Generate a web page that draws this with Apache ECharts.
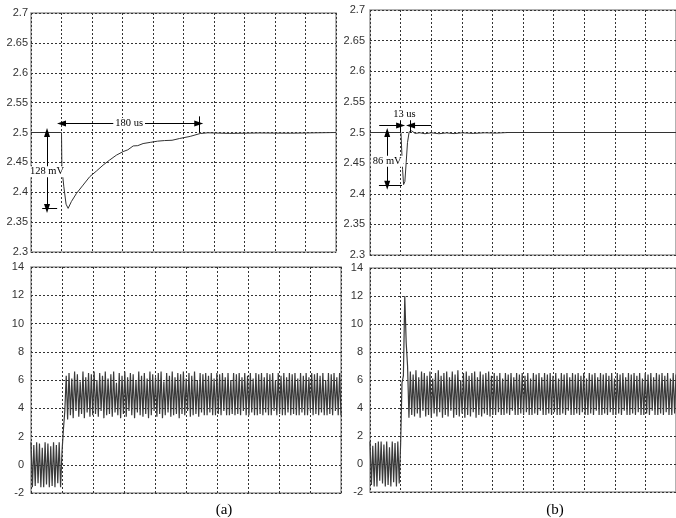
<!DOCTYPE html>
<html>
<head>
<meta charset="utf-8">
<script src="https://cdn.jsdelivr.net/npm/echarts@6/dist/echarts.min.js"></script>
<style>
  html, body { margin: 0; padding: 0; background: #fff; }
  #chart { width: 676px; height: 518px; }
</style>
</head>
<body>
<div id="chart"></div>
<script>
// time axis in us: 10 divisions of 40 us, load step at t = 40
const xTicks = [0, 400, 40];
const vTicks = [2.3, 2.7, 0.05];
const iTicks = [-2, 14, 2];

// output voltage (a)
const tVoltA = [0, 40, 40.5, 43, 46, 48.7, 53, 59.6, 68.3, 77, 85.8, 94.6, 103.2, 111.9, 120.7, 127, 134, 140, 147, 156.5, 166, 175, 185, 195, 208.8, 221.9, 232, 260, 300, 340, 400];
const voltA = [2.5, 2.5, 2.44, 2.41, 2.38, 2.373, 2.3845, 2.398, 2.412, 2.426, 2.4355, 2.4455, 2.454, 2.462, 2.468, 2.471, 2.4775, 2.478, 2.4815, 2.4835, 2.4855, 2.4865, 2.487, 2.490, 2.4935, 2.4983, 2.4995, 2.4985, 2.4992, 2.4988, 2.5];

// output voltage (b)
const tVoltB = [0, 40.5, 41.5, 42.6, 43.9, 45.6, 47.3, 49, 51.2, 54.6, 58.9, 65.3, 71.8, 80.4, 90, 100, 110, 120, 135, 150, 165, 180, 400];
const voltB = [2.5, 2.5, 2.47, 2.4395, 2.415, 2.42, 2.451, 2.4835, 2.501, 2.5027, 2.4985, 2.4995, 2.498, 2.4995, 2.498, 2.4993, 2.4982, 2.4995, 2.4985, 2.4995, 2.499, 2.5, 2.5];

// inductor current (a): ripple before the step, the rise, ripple after
const iPreA = [1.6, -1.6, 1.4, -1.5, 1.6, -1.3, 1.5, -1.6, 1.2, -1.6, 1.6, -1.4, 1.5, -1.6, 1.3, -1.5, 1.6, -1.6, 1.4, -1.3, 1.6, -1.6];
const iRiseA = [0.9, 2.5, 3.8];
const iRipA = [
  6.3, 3.2, 6.5, 3.5, 6.1, 3.3, 6.6, 3.8, 6.4, 3.4, 5.9, 3.6, 6.6, 3.3, 6.2, 3.7, 6.5, 3.4, 6.4, 3.5,
  6.6, 3.6, 6.0, 3.4, 6.5, 3.8, 6.3, 3.3, 6.6, 3.5, 6.1, 3.6, 6.4, 3.4, 6.6, 3.7, 5.8, 3.5, 6.5, 3.3,
  6.3, 3.6, 6.6, 3.4, 6.2, 3.8, 6.5, 3.5, 6.4, 3.3, 6.0, 3.7, 6.6, 3.5, 6.3, 3.4, 6.5, 3.6, 6.1, 3.3,
  6.6, 3.5, 6.4, 3.8, 6.2, 3.4, 6.5, 3.6, 6.6, 3.3, 5.9, 3.5, 6.5, 3.7, 6.3, 3.4, 6.6, 3.5, 6.2, 3.6,
  6.5, 3.3, 6.4, 3.6, 6.6, 3.5, 6.1, 3.8, 6.5, 3.4, 6.3, 3.5, 6.6, 3.6, 6.0, 3.4, 6.5, 3.7, 6.4, 3.5,
  6.5, 3.5, 6.3, 3.7, 6.5, 3.5, 6.1, 3.5, 6.5, 3.6, 6.4, 3.5, 6.5, 3.8, 6.2, 3.5, 6.5, 3.5, 6.0, 3.6,
  6.5, 3.5, 6.4, 3.6, 6.5, 3.5, 6.2, 3.8, 6.5, 3.5, 6.3, 3.5, 6.5, 3.7, 6.1, 3.5, 6.5, 3.5, 6.4, 3.6,
  6.5, 3.5, 6.2, 3.7, 6.5, 3.5, 6.4, 3.5, 6.5, 3.8, 6.0, 3.5, 6.5, 3.6, 6.3, 3.5, 6.5, 3.5, 6.2, 3.7,
  6.5, 3.5, 6.4, 3.6, 6.5, 3.5, 6.1, 3.5, 6.5, 3.7, 6.3, 3.5, 6.5, 3.5, 6.2, 3.8, 6.5, 3.5, 6.4, 3.6,
  6.5, 3.5, 6.3, 3.7, 6.5, 3.5, 6.0, 3.5, 6.5, 3.6, 6.4, 3.5, 6.5, 3.8, 6.2, 3.5, 6.5, 3.5
];

// inductor current (b): overshoot to 12 A right after the step
const iPreB = [1.6, -1.5, 1.3, -1.6, 1.5, -1.6, 1.6, -1.2, 1.6, -1.4, 1.4, -1.6, 1.6, -1.5, 1.2, -1.6, 1.6, -1.3, 1.5, -1.6, 1.6, -1.4];
const iRiseB = [1.4, 5.8, 6.3, 12.0, 8.7, 7.0];
const iRipB = [
  3.3, 6.6, 3.5, 6.4, 3.4, 6.7, 3.6, 6.2, 3.3, 6.6, 3.8, 6.5, 3.4, 6.3, 3.5, 6.6, 3.3, 6.1, 3.6, 6.5,
  3.4, 6.7, 3.7, 6.3, 3.3, 6.5, 3.5, 6.6, 3.4, 6.2, 3.8, 6.6, 3.3, 6.4, 3.5, 6.7, 3.4, 6.0, 3.6, 6.5,
  3.3, 6.6, 3.5, 6.3, 3.4, 6.5, 3.7, 6.6, 3.3, 6.2, 3.5, 6.6, 3.4, 6.4, 3.6, 6.5, 3.5, 6.6, 3.4, 6.3,
  3.5, 6.5, 3.5, 6.3, 3.7, 6.5, 3.5, 6.1, 3.5, 6.5, 3.6, 6.4, 3.5, 6.5, 3.8, 6.2, 3.5, 6.5, 3.5, 6.4,
  3.6, 6.5, 3.5, 6.3, 3.7, 6.5, 3.5, 6.1, 3.5, 6.5, 3.6, 6.4, 3.5, 6.5, 3.8, 6.2, 3.5, 6.5, 3.5, 6.4,
  3.6, 6.5, 3.5, 6.3, 3.7, 6.5, 3.5, 6.1, 3.5, 6.5, 3.6, 6.4, 3.5, 6.5, 3.8, 6.2, 3.5, 6.5, 3.5, 6.4,
  3.6, 6.5, 3.5, 6.3, 3.7, 6.5, 3.5, 6.1, 3.5, 6.5, 3.6, 6.4, 3.5, 6.5, 3.8, 6.2, 3.5, 6.5, 3.5, 6.4,
  3.6, 6.5, 3.5, 6.3, 3.7, 6.5, 3.5, 6.1, 3.5, 6.5, 3.6, 6.4, 3.5, 6.5, 3.8, 6.2, 3.5, 6.5, 3.5, 6.4,
  3.6, 6.5, 3.5, 6.3, 3.7, 6.5, 3.5, 6.1, 3.5, 6.5, 3.6, 6.4, 3.5, 6.5, 3.8, 6.2, 3.5, 6.5, 3.5, 6.4,
  3.6, 6.5, 3.5, 6.3, 3.7, 6.5, 3.5, 6.1, 3.5, 6.5, 3.6, 6.4
];

// annotations, in data units
const spanA = [40, 220, 2.515];      // 180 us arrow: from, to, level
const dropA = [21, 2.5, 2.373];      // 128 mV arrow: t, top, bottom
const tickA = [14.7, 34.3, 220, 2.527];
const spanB = [12, 40, 80, 53, 2.5114]; // 13 us inward arrows
const dropB = [22.5, 2.5, 2.414];
const tickB = [11.7, 41.8, 2.532];
const textA = [['180 us', 128.7, 2.515], ['128 mV', 21, 2.4345]];
const textB = [['13 us', 45, 2.529], ['86 mV', 22.5, 2.453]];

const serif = '"Liberation Serif", "Times New Roman", serif';
const sans = '"Liberation Sans", Arial, sans-serif';

function buildCurrent(pre, rise, ripple) {
  const dt = 40 / pre.length;
  const out = pre.map((v, i) => [i * dt, v]);
  rise.forEach((v, j) => out.push([40 + j * dt, v]));
  const t0 = 40 + rise.length * dt;
  const step = (400 - t0) / (ripple.length - 1);
  ripple.forEach((v, k) => out.push([t0 + k * step, v]));
  return out;
}

const grids = [
  { left: 31, top: 13, width: 305, height: 239 },
  { left: 370, top: 10, width: 311, height: 245 },
  { left: 31, top: 267, width: 310, height: 226 },
  { left: 370, top: 268, width: 311, height: 224 }
];

const dash = { color: '#333', width: 1, type: [2, 2] };

function xAxis(gi) {
  return {
    type: 'value', gridIndex: gi, min: xTicks[0], max: xTicks[1], interval: xTicks[2],
    axisLabel: { show: false }, axisTick: { show: false }, axisLine: { show: false },
    splitLine: { show: true, lineStyle: dash }
  };
}
function yAxis(gi, ticks, margin) {
  return {
    type: 'value', gridIndex: gi, min: ticks[0], max: ticks[1], interval: ticks[2],
    axisTick: { show: false }, axisLine: { show: false },
    axisLabel: { color: '#333', fontSize: 11, fontFamily: sans, margin: margin },
    splitLine: { show: true, lineStyle: dash }
  };
}

const arrowLine = { color: '#000', width: 1, type: 'solid' };
const tri = [6, 9];

function textPoints(list) {
  return {
    z: 8, symbol: 'circle', symbolSize: 0, silent: true, animation: false,
    label: {
      show: true, position: 'inside', formatter: '{b}', color: '#000',
      fontFamily: serif, fontSize: 10.5, backgroundColor: '#fff', padding: [0, 2]
    },
    data: list.map(d => ({ name: d[0], coord: [d[1], d[2]] }))
  };
}

const markA = {
  silent: true, animation: false, symbolSize: tri, lineStyle: arrowLine, label: { show: false },
  data: [
    [{ coord: [spanA[0], spanA[2]], symbol: 'triangle' }, { coord: [spanA[1], spanA[2]], symbol: 'triangle' }],
    [{ coord: [dropA[0], dropA[1]], symbol: 'triangle' }, { coord: [dropA[0], dropA[2]], symbol: 'triangle' }],
    [{ coord: [tickA[0], dropA[2]], symbol: 'none' }, { coord: [tickA[1], dropA[2]], symbol: 'none' }],
    [{ coord: [tickA[2], dropA[1]], symbol: 'none' }, { coord: [tickA[2], tickA[3]], symbol: 'none' }]
  ]
};
const markB = {
  silent: true, animation: false, symbolSize: tri, lineStyle: arrowLine, label: { show: false },
  data: [
    [{ coord: [spanB[0], spanB[4]], symbol: 'none' }, { coord: [spanB[1], spanB[4]], symbol: 'triangle' }],
    [{ coord: [spanB[2], spanB[4]], symbol: 'none' }, { coord: [spanB[3], spanB[4]], symbol: 'triangle' }],
    [{ coord: [dropB[0], dropB[1]], symbol: 'triangle' }, { coord: [dropB[0], dropB[2]], symbol: 'triangle' }],
    [{ coord: [tickB[0], dropB[2]], symbol: 'none' }, { coord: [tickB[1], dropB[2]], symbol: 'none' }],
    [{ coord: [spanB[1], dropB[1]], symbol: 'none' }, { coord: [spanB[1], tickB[2]], symbol: 'none' }],
    [{ coord: [spanB[3], dropB[1]], symbol: 'none' }, { coord: [spanB[3], tickB[2]], symbol: 'none' }]
  ]
};

const chart = echarts.init(document.getElementById('chart'));
chart.setOption({
  animation: false,
  backgroundColor: '#fff',
  title: [
    { text: '(a)', left: 219, top: 498, textAlign: 'center', textStyle: { fontFamily: serif, fontSize: 15, fontWeight: 'normal', color: '#000' } },
    { text: '(b)', left: 550, top: 498, textAlign: 'center', textStyle: { fontFamily: serif, fontSize: 15, fontWeight: 'normal', color: '#000' } }
  ],
  grid: grids.map(g => Object.assign({ show: true, borderColor: '#999', borderWidth: 1.5, backgroundColor: '#fff' }, g)),
  xAxis: [xAxis(0), xAxis(1), xAxis(2), xAxis(3)],
  yAxis: [yAxis(0, vTicks, 3), yAxis(1, vTicks, 5), yAxis(2, iTicks, 7), yAxis(3, iTicks, 7)],
  series: [
    {
      type: 'line', xAxisIndex: 0, yAxisIndex: 0, showSymbol: false, z: 3,
      lineStyle: { color: '#333', width: 1 },
      data: tVoltA.map((t, i) => [t, voltA[i]]),
      markLine: markA, markPoint: textPoints(textA)
    },
    {
      type: 'line', xAxisIndex: 1, yAxisIndex: 1, showSymbol: false, z: 3,
      lineStyle: { color: '#333', width: 1 },
      data: tVoltB.map((t, i) => [t, voltB[i]]),
      markLine: markB, markPoint: textPoints(textB)
    },
    {
      type: 'line', xAxisIndex: 2, yAxisIndex: 2, showSymbol: false,
      lineStyle: { color: '#3a3a3a', width: 1.2 },
      data: buildCurrent(iPreA, iRiseA, iRipA)
    },
    {
      type: 'line', xAxisIndex: 3, yAxisIndex: 3, showSymbol: false,
      lineStyle: { color: '#3a3a3a', width: 1.2 },
      data: buildCurrent(iPreB, iRiseB, iRipB)
    }
  ]
});
</script>
</body>
</html>
